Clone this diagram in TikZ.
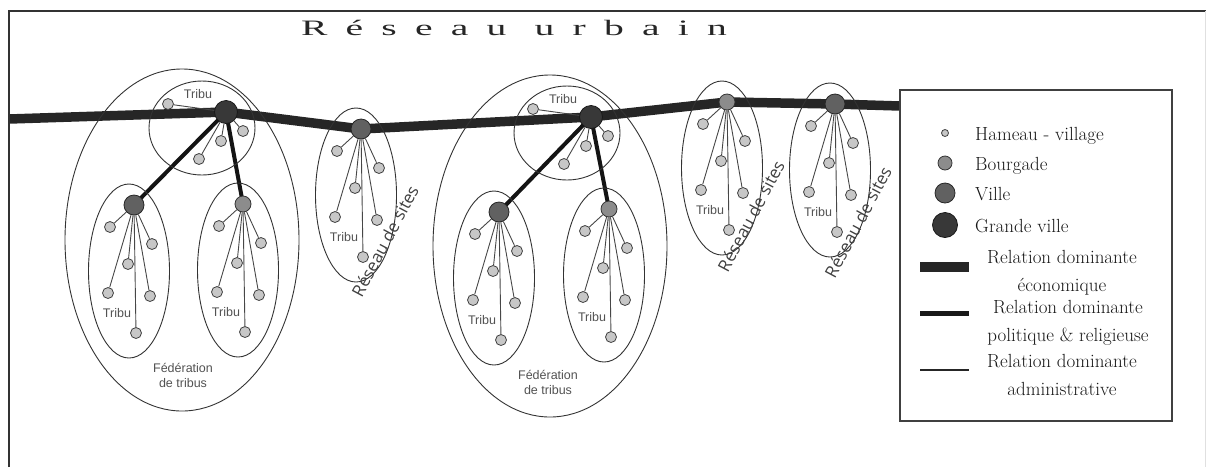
\documentclass[tikz,border=0pt]{standalone}
\usepackage{fontspec}
\usepackage{graphicx}
\usetikzlibrary{positioning}
\usetikzlibrary{calc}
\usetikzlibrary{backgrounds}
\newfontfamily\titrefont[LetterSpace=46]{Liberation Serif}
\newfontfamily\tribufont{Liberation Sans}
\newfontfamily\sitesfont{Open Sans}
\definecolor{mgris}{rgb}{0.2, 0.2, 0.2}
\tikzset{hameau/.style = {circle, draw=black!75, fill=black!22, line width=0.8pt,
                          inner sep=0pt, minimum size=11pt},
         bourgade/.style = {circle, draw=black!80, fill=black!45, line width=0.8pt,
                            inner sep=0pt, minimum size=16pt},
         ville/.style = {circle, draw=black!85, fill=black!62, line width=0.8pt,
                         inner sep=0pt, minimum size=20pt},
         grandeville/.style = {circle, draw=black!90, fill=black!78, line width=0.8pt,
                               inner sep=0pt, minimum size=23pt},
         eco/.style = {line width=9.5pt, black!85, line join=round},
         poli/.style = {line width=4pt, black!92},
         admin/.style = {line width=0.9pt, black!72},
         perimetre/.style = {draw=black!80, line width=0.9pt},
         cadre/.style = {draw=mgris, line width=2pt},
         tribulbl/.style = {font=\tribufont\fontsize{12.5}{14}\selectfont, text=black!68, inner sep=0pt},
         federation/.style = {font=\tribufont\fontsize{12.5}{15}\selectfont, text=black!68,
                              align=center, inner sep=0pt},
         sites/.style = {font=\sitesfont\fontsize{17}{19}\selectfont, text=black!75, inner sep=0pt},
         legtexte/.style = {font=\fontsize{19}{28}\selectfont, text=black!90, inner sep=0pt}}

% une tribu : six hameaux sous un centre
\newcommand{\tribu}[2]{%
  \draw [perimetre] ($(#1)+(-5,66)$) ellipse [x radius=40.5, y radius=87];
  \foreach \dx/\dy [count=\k] in {-24/22, 18/39, -6/59, -26/88, 16/91, 2/128} {
    \node [hameau] (#2-\k) at ($(#1)+(\dx,\dy)$) {};
    \draw [admin] (#1) -- (#2-\k);
  }
  \node [tribulbl] (#2-nom) at ($(#1)+(-17,108)$) {Tribu};
}
% la tribu de la grande ville
\newcommand{\tribuhaut}[2]{%
  \draw [perimetre] ($(#1)+(-24,16)$) ellipse [x radius=53, y radius=47];
  \foreach \dx/\dy [count=\k] in {-58/-8, 17/19, -5/29, -27/47} {
    \node [hameau] (#2-\k) at ($(#1)+(\dx,\dy)$) {};
    \draw [admin] (#1) -- (#2-\k);
  }
  \node [tribulbl] (#2-nom) at ($(#1)+(-28,-18)$) {Tribu};
}

\begin{document}
\begin{tikzpicture}[x=1pt, y=-1pt]
    \useasboundingbox (0,0) rectangle (1206,467);
    \draw [cadre] (9,467) -- (9,11) -- (1206,11);
    \draw [black!12, line width=1pt] (1205,11) -- (1205,467);
    \node [text=black!85, inner sep=0pt, anchor=base] (titre) at (514,35)
        {\scalebox{1.8}[1]{\titrefont\fontsize{22}{24}\selectfont Réseau urbain}};

    \draw [perimetre] (182,240) ellipse [x radius=117, y radius=171];
    \draw [perimetre] (550,246) ellipse [x radius=117, y radius=171];

    \node [grandeville] (gv1) at (226,112) {};
    \node [ville] (v1) at (134,205) {};
    \node [bourgade] (b1) at (243,204) {};
    \node [ville] (v2) at (361,129) {};
    \node [grandeville] (gv2) at (591,117) {};
    \node [ville] (v3) at (499,212) {};
    \node [bourgade] (b2) at (609,209) {};
    \node [bourgade] (b3) at (727,102) {};
    \node [ville] (v4) at (835,104) {};
    \coordinate (entree) at (9,119);
    \coordinate (sortie) at (900,106);

    \tribuhaut{gv1}{ta}
    \tribu{v1}{tb}
    \tribu{b1}{tc}
    \tribu{v2}{td}
    \tribuhaut{gv2}{te}
    \tribu{v3}{tf}
    \tribu{b2}{tg}
    \tribu{b3}{th}
    \tribu{v4}{ti}

    \begin{scope}[on background layer]
      \draw [eco] (entree) -- (gv1.center) -- (v2.center) -- (gv2.center) -- (b3.center) -- (v4.center) -- (sortie);
      \draw [poli] (gv1.center) -- (v1.center);
      \draw [poli] (gv1.center) -- (b1.center);
      \draw [poli] (gv2.center) -- (v3.center);
      \draw [poli] (gv2.center) -- (b2.center);
    \end{scope}

    \node [federation] (fed1) at (183,375) {Fédération\\de tribus};
    \node [federation] (fed2) at (548,382) {Fédération\\de tribus};
    \node [sites, rotate=62] (sites1) at (385,241) {Réseau de sites};
    \node [sites, rotate=62] (sites2) at (751,216) {Réseau de sites};
    \node [sites, rotate=62] (sites3) at (858,222) {Réseau de sites};

    % legende
    \node [draw=black!75, line width=2pt, fill=white, inner sep=0pt,
           minimum width=272pt, minimum height=331pt] (legende) at (1036,255.5) {};
    \node [hameau, minimum size=7pt] (lhameau) at (945,133) {};
    \node [bourgade, minimum size=14pt] (lbourgade) at (945,163) {};
    \node [ville, minimum size=20pt] (lville) at (945,193) {};
    \node [grandeville, minimum size=25pt] (lgrande) at (945,225) {};
    \node [legtexte, anchor=base west] (thameau) at (975,140) {Hameau - village};
    \node [legtexte, anchor=base west] (tbourgade) at (975,170) {Bourgade};
    \node [legtexte, anchor=base west] (tville) at (975,200) {Ville};
    \node [legtexte, anchor=base west] (tgrande) at (975,232) {Grande ville};
    \draw [black!85, line width=10pt] (920,267) -- (969,267);
    \draw [black!90, line width=5pt] (920,313) -- (969,313);
    \draw [black!85, line width=2.5pt] (920,370) -- (969,370);
    \node [legtexte, align=center] (teco) at (1062,273) {Relation dominante\\économique};
    \node [legtexte, align=center] (tpoli) at (1068,323) {Relation dominante\\politique \& religieuse};
    \node [legtexte, align=center] (tadmin) at (1062,375) {Relation dominante\\administrative};
\end{tikzpicture}
\end{document}
